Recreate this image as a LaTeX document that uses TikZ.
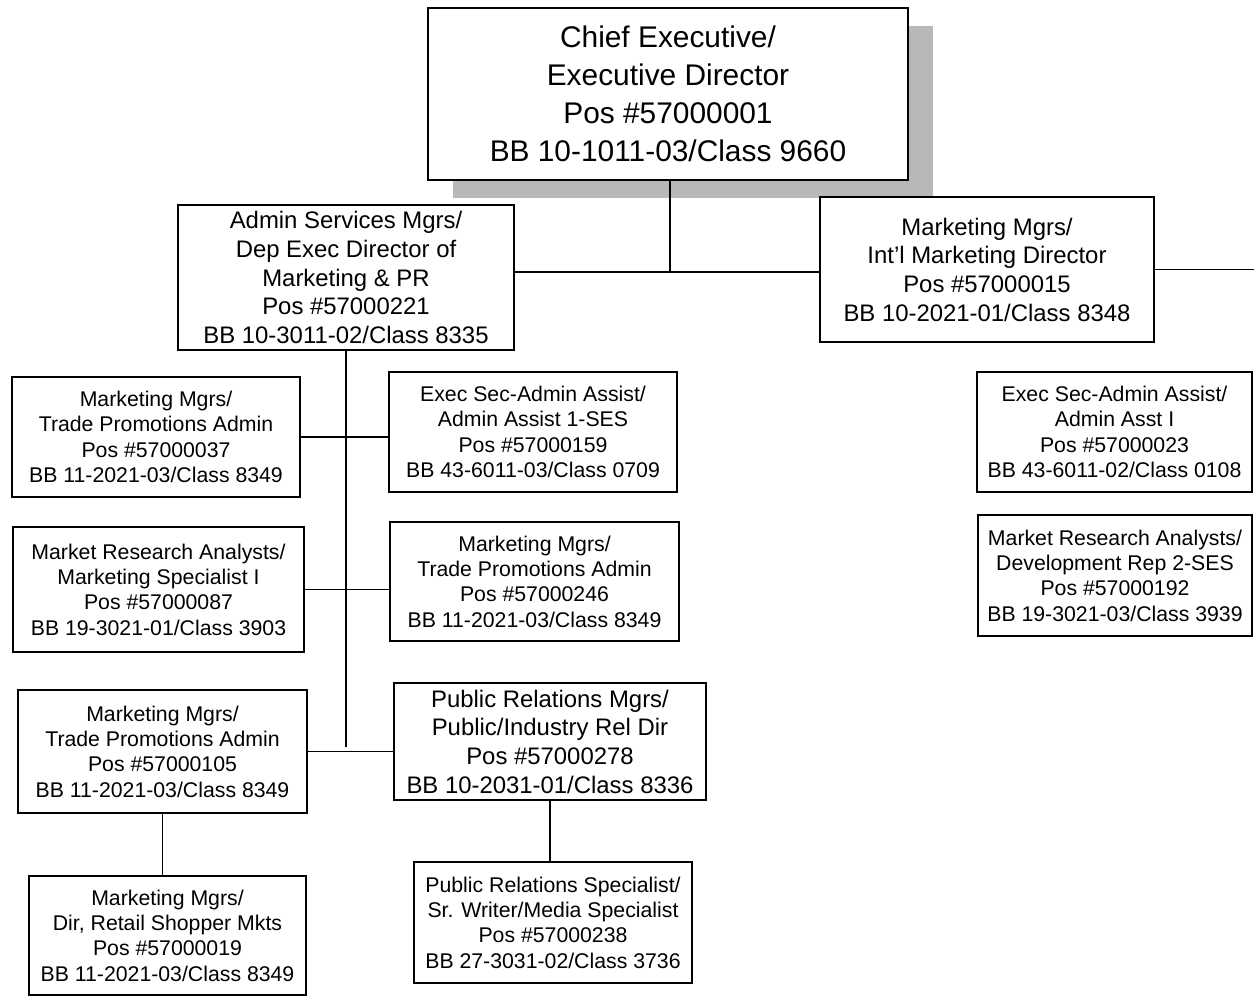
\documentclass[tikz,border=0pt]{standalone}
\usepackage{fontspec}
\setmainfont{Liberation Sans}
\usetikzlibrary{shadows}

\begin{document}
\begin{tikzpicture}[
    x=0.2mm, y=-0.2mm,
    line width=0.8pt,
    post/.style={draw,line width=1.1pt,fill=white,align=center,inner sep=0pt},
    chief/.style={post,font=\fontsize{17}{21.6}\selectfont,
        general shadow={fill=black!28,shadow xshift=5mm,shadow yshift=-3.6mm}},
    manager/.style={post,font=\fontsize{13.6}{16.3}\selectfont},
    staff/.style={post,font=\fontsize{12.1}{14.4}\selectfont}
]
\useasboundingbox (0,0) rectangle (1254,997);

\node[chief,minimum width=96mm,minimum height=34.4mm] (ceo) at (668,94)
    {Chief Executive/\\Executive Director\\Pos \#57000001\\BB 10-1011-03/Class 9660};

\node[manager,minimum width=67.2mm,minimum height=29mm] (admin) at (346,277.5)
    {Admin Services Mgrs/\\Dep Exec Director of\\Marketing \& PR\\Pos \#57000221\\BB 10-3011-02/Class 8335};

\node[manager,minimum width=66.8mm,minimum height=29mm] (intl) at (987,269.5)
    {Marketing Mgrs/\\Int'l Marketing Director\\Pos \#57000015\\BB 10-2021-01/Class 8348};

\coordinate (hub) at (670,272);
\coordinate (edge) at (1254,0);

\draw (ceo.south -| hub) -- (hub);
\draw (admin.east |- hub) -- (intl.west |- hub);
\draw (intl.east) -- (intl.east -| edge);

% Left branch
\node[staff,minimum width=57.6mm,minimum height=24mm] (trade037) at (156,437)
    {Marketing Mgrs/\\Trade Promotions Admin\\Pos \#57000037\\BB 11-2021-03/Class 8349};

\node[staff,minimum width=57.6mm,minimum height=24mm] (execsec159) at (533,432)
    {Exec Sec-Admin Assist/\\Admin Assist 1-SES\\Pos \#57000159\\BB 43-6011-03/Class 0709};

\node[staff,minimum width=58.2mm,minimum height=25mm] (research087) at (158.5,589.5)
    {Market Research Analysts/\\Marketing Specialist I\\Pos \#57000087\\BB 19-3021-01/Class 3903};

\node[staff,minimum width=57.8mm,minimum height=23.8mm] (trade246) at (534.5,581.5)
    {Marketing Mgrs/\\Trade Promotions Admin\\Pos \#57000246\\BB 11-2021-03/Class 8349};

\node[staff,minimum width=57.8mm,minimum height=24.6mm] (trade105) at (162.5,751.5)
    {Marketing Mgrs/\\Trade Promotions Admin\\Pos \#57000105\\BB 11-2021-03/Class 8349};

\node[manager,minimum width=62.4mm,minimum height=23.4mm] (pr278) at (550,741.5)
    {Public Relations Mgrs/\\Public/Industry Rel Dir\\Pos \#57000278\\BB 10-2031-01/Class 8336};

\node[staff,minimum width=55.4mm,minimum height=23.8mm] (shopper019) at (167.5,935.5)
    {Marketing Mgrs/\\Dir, Retail Shopper Mkts\\Pos \#57000019\\BB 11-2021-03/Class 8349};

\node[staff,minimum width=55.6mm,minimum height=24.2mm] (prspec238) at (553,922.5)
    {Public Relations Specialist/\\Sr. Writer/Media Specialist\\Pos \#57000238\\BB 27-3031-02/Class 3736};

\coordinate (trunk) at (348,747);

\draw (admin.south) -- (admin.south |- trunk);
\draw (trade037.east) -- (trade037.east -| execsec159.west);
\draw (research087.east) -- (research087.east -| trade246.west);
\draw (trade105.east) -- (trade105.east -| pr278.west);
\draw (trade105.south) -- (trade105.south |- shopper019.north);
\draw (pr278.south) -- (pr278.south |- prspec238.north);

% Right branch
\node[staff,minimum width=55mm,minimum height=24mm] (execsec023) at (1114.5,432)
    {Exec Sec-Admin Assist/\\Admin Asst I\\Pos \#57000023\\BB 43-6011-02/Class 0108};

\node[staff,minimum width=54.8mm,minimum height=24.2mm] (research192) at (1115,575.5)
    {Market Research Analysts/\\Development Rep 2-SES\\Pos \#57000192\\BB 19-3021-03/Class 3939};

\end{tikzpicture}
\end{document}
